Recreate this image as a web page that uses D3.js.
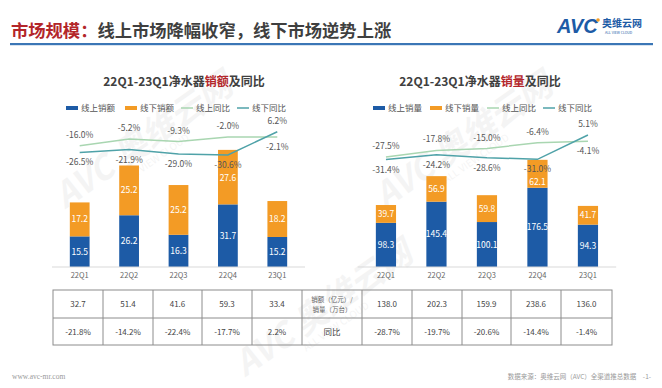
<!DOCTYPE html>
<html><head><meta charset="utf-8">
<script src="https://cdn.jsdelivr.net/npm/d3@7"></script>
<style>
html,body{margin:0;padding:0;background:#fff;}
svg{display:block;font-family:"Noto Sans CJK SC","Noto Sans",sans-serif;}
</style></head>
<body><svg id="c" width="662" height="388"></svg>
<script>
const categories = ["22Q1","22Q2","22Q3","22Q4","23Q1"];
// left chart: sales amount (亿元)
const onlineAmount  = [15.5, 26.2, 16.3, 31.7, 15.2];
const offlineAmount = [17.2, 25.2, 25.2, 27.6, 18.2];
const onlineAmountYoY  = [-16.0, -5.2, -9.3, -2.0, -2.1];
const offlineAmountYoY = [-26.5, -21.9, -29.0, -30.6, 6.2];
const totalAmount    = [32.7, 51.4, 41.6, 59.3, 33.4];
const totalAmountYoY = [-21.8, -14.2, -22.4, -17.7, 2.2];
// right chart: sales volume (万台)
const onlineVolume  = [98.3, 145.4, 100.1, 176.5, 94.3];
const offlineVolume = [39.7, 56.9, 59.8, 62.1, 41.7];
const onlineVolumeYoY  = [-27.5, -17.8, -15.0, -6.4, -4.1];
const offlineVolumeYoY = [-31.4, -24.2, -28.6, -31.0, 5.1];
const totalVolume    = [138.0, 202.3, 159.9, 238.6, 136.0];
const totalVolumeYoY = [-28.7, -19.7, -20.6, -14.4, -1.4];

const C = {blue:"#1d5ba6", orange:"#f39b25", green:"#a9d6b1", teal:"#4fa2a8", red:"#b3262a", text:"#555"};
const svg = d3.select("#c");

// watermark
[[150,150],[470,150],[330,318]].forEach(([x,y])=>{
  const g = svg.append("g").attr("transform",`translate(${x},${y}) rotate(-35)`).attr("opacity",0.06);
  g.append("text").attr("text-anchor","middle").attr("font-size",34).attr("font-weight","bold")
   .attr("font-style","italic").attr("fill","#555").text("AVC 奥维云网");
  g.append("text").attr("text-anchor","middle").attr("y",14).attr("font-size",10).attr("fill","#555").text("ALL VIEW CLOUD");
});

// header
const ht = svg.append("text").attr("x",11).attr("y",37).attr("font-size",17.3).attr("font-weight","bold");
ht.append("tspan").attr("fill",C.red).text("市场规模：");
ht.append("tspan").attr("fill","#3f3f3f").text("线上市场降幅收窄，线下市场逆势上涨");
svg.append("rect").attr("x",10).attr("y",43).attr("width",643).attr("height",2.2).attr("fill","#3b76b6");
// logo
svg.append("text").attr("x",557).attr("y",33).attr("font-size",20).attr("font-weight","bold")
  .attr("font-style","italic").attr("fill","#1d5ba6").attr("font-family","Liberation Sans").text("AVC");
svg.append("circle").attr("cx",598).attr("cy",20).attr("r",1.8).attr("fill","#f39b25");
svg.append("text").attr("x",602).attr("y",27).attr("font-size",10).attr("font-weight","bold").attr("fill","#1d5ba6").text("奥维云网");
svg.append("text").attr("x",605).attr("y",34).attr("font-size",3.5).attr("fill","#1d5ba6").text("ALL VIEW CLOUD");

function chart(opt){
  const x = d3.scaleBand().domain(categories).range(opt.xr).paddingInner(0.6).paddingOuter(0.3);
  const y = d3.scaleLinear().domain(opt.yd).range([267,opt.yTop]);
  const y2 = d3.scaleLinear().domain([-35,10]).range(opt.y2r);
  const g = svg.append("g");
  // title
  const t = g.append("text").attr("x",opt.cx).attr("y",86).attr("text-anchor","middle")
    .attr("font-size",12).attr("font-weight","bold").attr("fill","#404040");
  t.append("tspan").text("22Q1-23Q1净水器");
  t.append("tspan").attr("fill",C.red).text(opt.word);
  t.append("tspan").text("及同比");
  // legend
  const leg = [
    {type:"rect",c:C.blue,l:opt.names[0]},{type:"rect",c:C.orange,l:opt.names[1]},
    {type:"line",c:C.green,l:"线上同比"},{type:"line",c:C.teal,l:"线下同比"}];
  leg.forEach((d,i)=>{
    const lx = opt.legX[i];
    if(d.type==="rect") g.append("rect").attr("x",lx).attr("y",106).attr("width",12).attr("height",4).attr("fill",d.c);
    else g.append("line").attr("x1",lx).attr("x2",lx+12).attr("y1",108).attr("y2",108).attr("stroke",d.c).attr("stroke-width",1.5);
    g.append("text").attr("x",lx+15).attr("y",111).attr("font-size",8.5).attr("fill",C.text).text(d.l);
  });
  // bars
  const stack = categories.map((c,i)=>({c, on:opt.on[i], off:opt.off[i], offY:opt.offY[i], onY:opt.onY[i]}));
  const bw = x.bandwidth();
  g.selectAll(".on").data(stack).join("rect").attr("x",d=>x(d.c)).attr("width",bw)
    .attr("y",d=>y(d.on)).attr("height",d=>y(0)-y(d.on)).attr("fill",C.blue);
  g.selectAll(".off").data(stack).join("rect").attr("x",d=>x(d.c)).attr("width",bw)
    .attr("y",d=>y(d.on+d.off)).attr("height",d=>y(d.on)-y(d.on+d.off)).attr("fill",C.orange);
  g.selectAll(".onl").data(stack).join("text").attr("x",d=>x(d.c)+bw/2).attr("y",d=>(y(0)+y(d.on))/2+3)
    .attr("text-anchor","middle").attr("font-size",8.5).attr("fill","#fff").text(d=>d.on.toFixed(1));
  g.selectAll(".offl").data(stack).join("text").attr("x",d=>x(d.c)+bw/2)
    .attr("y",d=>{
      const mid=(y(d.on)+y(d.on+d.off))/2+3;
      const lblBelow = d.onY>=d.offY ? y2(d.offY)+13 : -100;
      return Math.max(mid, lblBelow+13);
    })
    .attr("text-anchor","middle").attr("font-size",8.5).attr("fill","#fff").text(d=>d.off.toFixed(1));
  // axis
  const ax = g.append("g").attr("transform","translate(0,267)")
    .call(d3.axisBottom(x).tickSize(0).tickPadding(6));
  ax.select(".domain").attr("stroke","#d9d9d9").attr("d",`M${opt.xr[0]-3},0H${opt.xr[1]+3}`);
  ax.selectAll("text").attr("font-size",7.5).attr("fill","#666").attr("font-family","Noto Sans CJK SC");
  // lines
  const line = d3.line().x((d,i)=>x(categories[i])+bw/2).y(d=>y2(d));
  g.append("path").attr("d",line(opt.onY)).attr("fill","none").attr("stroke",C.green).attr("stroke-width",1.5);
  g.append("path").attr("d",line(opt.offY)).attr("fill","none").attr("stroke",C.teal).attr("stroke-width",1.5);
  // line labels
  categories.forEach((c,i)=>{
    const cx = x(c)+bw/2;
    const onAbove = opt.onY[i] >= opt.offY[i];
    const fmt = v=>v.toFixed(1)+"%";
    const yOn = y2(opt.onY[i]), yOff = y2(opt.offY[i]);
    g.append("text").attr("x",cx).attr("y", onAbove ? yOn-8 : yOn+13).attr("text-anchor","middle")
      .attr("font-size",8.5).attr("fill",C.text).text(fmt(opt.onY[i]));
    g.append("text").attr("x",cx).attr("y", onAbove ? yOff+13 : yOff-8).attr("text-anchor","middle")
      .attr("font-size",8.5).attr("fill",C.text).text(fmt(opt.offY[i]));
  });
}

chart({xr:[55,302], yd:[0,60], yTop:148.5, y2r:[157.8,129.3], cx:184, word:"销额",
  names:["线上销额","线下销额"], legX:[66,125,181,237],
  on:onlineAmount, off:offlineAmount, onY:onlineAmountYoY, offY:offlineAmountYoY});
chart({xr:[360.7,613.2], yd:[0,240], yTop:159.2, y2r:[162,131.7], cx:480, word:"销量",
  names:["线上销量","线下销量"], legX:[373,430,487,543],
  on:onlineVolume, off:offlineVolume, onY:onlineVolumeYoY, offY:offlineVolumeYoY});

// table
const colX = [53,103,153,202,252,302,362,412,462,511,561,612];
const rowY = [290,318,345];
const tg = svg.append("g");
tg.append("rect").attr("x",colX[0]).attr("y",rowY[0]).attr("width",colX[11]-colX[0]).attr("height",rowY[2]-rowY[0])
  .attr("fill","none").attr("stroke","#8c8c8c").attr("stroke-width",1);
colX.slice(1,-1).forEach(cx=>tg.append("line").attr("x1",cx).attr("x2",cx).attr("y1",rowY[0]).attr("y2",rowY[2]).attr("stroke","#8c8c8c"));
tg.append("line").attr("x1",colX[0]).attr("x2",colX[11]).attr("y1",rowY[1]).attr("y2",rowY[1]).attr("stroke","#8c8c8c");
const row1 = totalAmount.map(v=>v.toFixed(1)).concat([null], totalVolume.map(v=>v.toFixed(1)));
const row2 = totalAmountYoY.map(v=>v.toFixed(1)+"%").concat(["同比"], totalVolumeYoY.map(v=>v.toFixed(1)+"%"));
row1.forEach((t,i)=>{
  const cx=(colX[i]+colX[i+1])/2;
  if(t===null){
    tg.append("text").attr("x",cx).attr("y",302).attr("text-anchor","middle").attr("font-size",6.5).attr("fill","#666").text("销额（亿元）/");
    tg.append("text").attr("x",cx).attr("y",312).attr("text-anchor","middle").attr("font-size",6.5).attr("fill","#666").text("销量（万台）");
  } else tg.append("text").attr("x",cx).attr("y",307).attr("text-anchor","middle").attr("font-size",8).attr("fill","#444").text(t);
});
row2.forEach((t,i)=>{
  const cx=(colX[i]+colX[i+1])/2;
  tg.append("text").attr("x",cx).attr("y",334.5).attr("text-anchor","middle").attr("font-size",i===5?8.5:8).attr("fill","#444").text(t);
});

// footer
svg.append("text").attr("x",12).attr("y",379).attr("font-size",7.5).attr("font-family","Liberation Serif").attr("fill","#9a9a9a").text("www.avc-mr.com");
svg.append("text").attr("x",651).attr("y",379).attr("text-anchor","end").attr("font-size",6.5).attr("fill","#9a9a9a").text("数据来源：奥维云网（AVC）全渠道推总数据　-1-");
</script></body></html>
